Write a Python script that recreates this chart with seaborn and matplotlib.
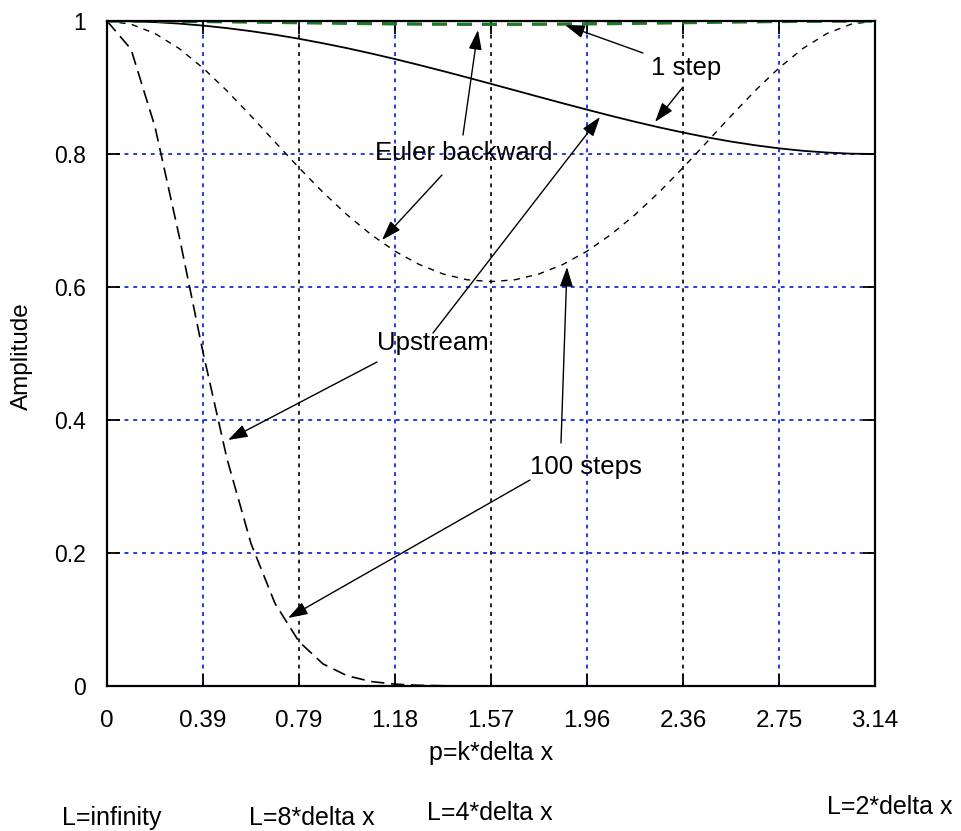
import matplotlib
matplotlib.use("Agg")
import matplotlib.pyplot as plt
import seaborn as sns
import pandas as pd

# ---------------- data ----------------
p_vals = [0.0, 0.0982, 0.1963, 0.2945, 0.3927, 0.4909, 0.5890, 0.6872, 0.7854,
          0.8836, 0.9817, 1.0799, 1.1781, 1.2763, 1.3744, 1.4726, 1.5708,
          1.6690, 1.7671, 1.8653, 1.9635, 2.0617, 2.1598, 2.2580, 2.3562,
          2.4544, 2.5525, 2.6507, 2.7489, 2.8471, 2.9452, 3.0434, 3.1416]

upstream_1 = [1.0, 0.9996, 0.9983, 0.9961, 0.9931, 0.9893, 0.9847, 0.9794, 0.9733,
              0.9665, 0.9592, 0.9512, 0.9428, 0.9339, 0.9247, 0.9152, 0.9055,
              0.8957, 0.8859, 0.8762, 0.8667, 0.8574, 0.8485, 0.8401, 0.8323,
              0.8251, 0.8187, 0.8132, 0.8085, 0.8048, 0.8022, 0.8005, 0.8000]

upstream_100 = [1.0, 0.9576, 0.8409, 0.6777, 0.5017, 0.3416, 0.2143, 0.1242, 0.0667,
                0.0332, 0.0155, 0.0067, 0.0028, 0.0011, 0.0004, 0.0001, 0.0000]

euler_1 = [1.0, 0.99995, 0.99981, 0.99958, 0.99927, 0.99889, 0.99846, 0.99799, 0.99751,
           0.99702, 0.99656, 0.99612, 0.99576, 0.99543, 0.99522, 0.99506, 0.99504,
           0.99506, 0.99522, 0.99543, 0.99576, 0.99612, 0.99656, 0.99702, 0.99751,
           0.99799, 0.99846, 0.99889, 0.99927, 0.99958, 0.99981, 0.99995, 1.0]

euler_100 = [1.0, 0.9952, 0.9812, 0.9588, 0.9294, 0.8950, 0.8572, 0.8181, 0.7793,
             0.7424, 0.7086, 0.6789, 0.6538, 0.6340, 0.6196, 0.6109, 0.6081,
             0.6109, 0.6196, 0.6340, 0.6538, 0.6789, 0.7086, 0.7424, 0.7793,
             0.8181, 0.8572, 0.8950, 0.9294, 0.9588, 0.9812, 0.9952, 1.0]

xtick_vals = [0.0, 0.3927, 0.7854, 1.1781, 1.5708, 1.9635, 2.3562, 2.7489, 3.1416]
xtick_labels = ["0", "0.39", "0.79", "1.18", "1.57", "1.96", "2.36", "2.75", "3.14"]
ytick_vals = [0.0, 0.2, 0.4, 0.6, 0.8, 1.0]
ytick_labels = ["0", "0.2", "0.4", "0.6", "0.8", "1"]
wavelength_labels = ["L=infinity", "L=8*delta x", "L=4*delta x", "L=2*delta x"]

# ---------------- figure ----------------
W, H = 961, 831
fig = plt.figure(figsize=(W / 100, H / 100), dpi=100)
ax = fig.add_axes([107 / W, 1 - 686 / H, 768 / W, 665 / H])

REG = ["Liberation Sans", "DejaVu Sans"]

df_up = pd.DataFrame({"p": p_vals, "up1": upstream_1, "eu1": euler_1, "eu100": euler_100})
df_up100 = pd.DataFrame({"p": p_vals[:len(upstream_100)], "up100": upstream_100})

# Euler backward, 100 steps (short dashes)
sns.lineplot(data=df_up, x="p", y="eu100", ax=ax, color="black", lw=1.0,
             estimator=None, sort=False)
ax.lines[-1].set_dashes([4.5, 4.5])
# Upstream, 100 steps (long dashes)
sns.lineplot(data=df_up100, x="p", y="up100", ax=ax, color="black", lw=1.2,
             estimator=None, sort=False)
ax.lines[-1].set_dashes([8, 4])
# Upstream, 1 step (solid)
sns.lineplot(data=df_up, x="p", y="up1", ax=ax, color="black", lw=1.3,
             estimator=None, sort=False)
# Euler backward, 1 step (green dashed)
sns.lineplot(data=df_up, x="p", y="eu1", ax=ax, color="#1e7a2a", lw=2.4,
             estimator=None, sort=False)
ax.lines[-1].set_dashes([4.5, 3])

ax.set_xlim(0, 3.1416)
ax.set_ylim(0, 1)

# ticks
ax.set_xticks(xtick_vals)
ax.set_xticklabels(xtick_labels, fontfamily=REG, fontsize=17.5)
ax.set_yticks(ytick_vals)
ax.set_yticklabels(ytick_labels, fontfamily=REG, fontsize=16.5)
ax.tick_params(axis="both", direction="in", length=9, width=1.3, top=True, right=True,
               color="black")
ax.tick_params(axis="x", pad=17)
ax.tick_params(axis="y", pad=15)

# grid
ax.set_axisbelow(True)
ax.grid(True, linestyle=(0, (2, 2.5)), linewidth=1.4)
blue = "#2a3ad8"
for i, gl in enumerate(ax.xaxis.get_gridlines()):
    gl.set_color(blue if i % 2 == 1 else "#222222")
for gl in ax.yaxis.get_gridlines():
    gl.set_color(blue)

for s in ax.spines.values():
    s.set_linewidth(1.6)
    s.set_color("black")

ax.set_xlabel("p=k*delta x", fontfamily=REG, fontsize=18)
ax.xaxis.set_label_coords(0.5, (686 - 753) / 665)
ax.xaxis.label.set_va("center")
ax.set_ylabel("Amplitude", fontfamily=REG, fontsize=17.5)
ax.yaxis.set_label_coords((22 - 107) / 768, (686 - 356) / 665)
ax.yaxis.label.set_va("center")

# ---------------- annotations ----------------
def px2d(x, y):
    return ((x - 107) / 768 * 3.1416, (686 - y) / 665)

texts = [("1 step", 686, 68), ("Euler backward", 464, 153),
         ("Upstream", 433, 343), ("100 steps", 586, 467)]
for t, x, y in texts:
    dx, dy = px2d(x, y)
    ax.text(dx, dy, t, fontfamily=REG, fontsize=18.5, ha="center", va="center",
            color="black", zorder=5)

arrows = [((643, 53), (565, 25)), ((683, 87), (655, 122)),
          ((463, 135), (478, 30)), ((442, 175), (382, 240)),
          ((433, 333), (600, 117)), ((377, 362), (228, 440)),
          ((561, 443), (567, 267)), ((530, 480), (288, 618))]
for (sx, sy), (tx, ty) in arrows:
    ax.annotate("", xy=px2d(tx, ty), xytext=px2d(sx, sy),
                arrowprops=dict(arrowstyle="-|>,head_length=0.6,head_width=0.2",
                                color="black", lw=1.0, shrinkA=0, shrinkB=0,
                                mutation_scale=20),
                annotation_clip=False, zorder=6)

# wavelength labels under the axis
for t, x, y in zip(wavelength_labels, [112, 312, 490, 890], [818, 818, 813, 807]):
    fig.text(x / W, 1 - y / H, t, fontfamily=REG, fontsize=18,
             ha="center", va="center")

fig.savefig("out.png", dpi=100)
